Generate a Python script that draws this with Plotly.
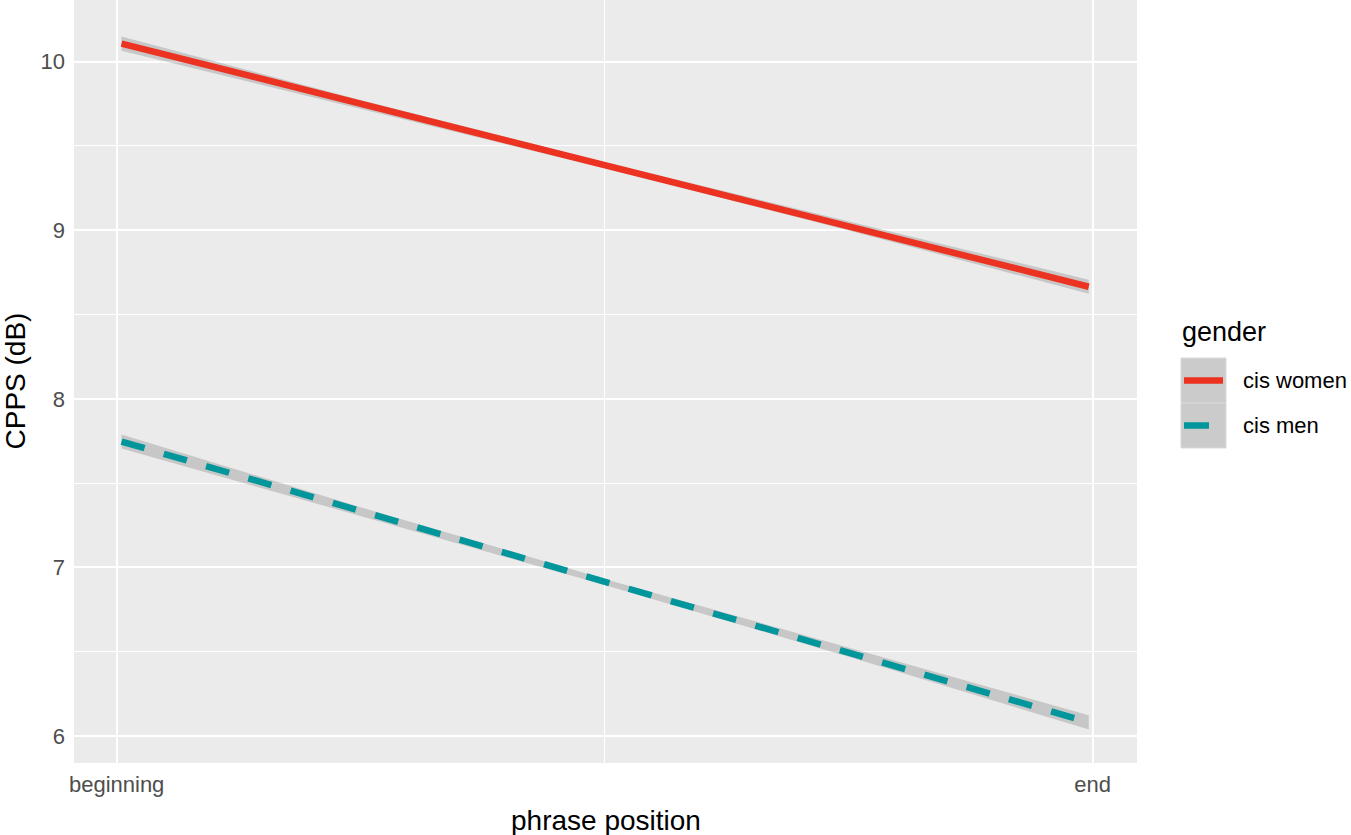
import plotly.graph_objects as go

# ---- data ----
x_pos = [0.005, 0.25, 0.5, 0.75, 0.996]
women = [10.107, 9.747, 9.386, 9.025, 8.665]
men = [7.747, 7.331, 6.914, 6.497, 6.081]
band_half = [0.042, 0.026, 0.018, 0.026, 0.042]
groups = ["cis women", "cis men"]
x_ticks = [0, 1]
x_ticklabels = ["beginning", "end"]
y_ticks = [6, 7, 8, 9, 10]

RED = "#EC3220"
TEAL = "#00969B"
RIBBON = "rgba(150,150,150,0.42)"
FONT = "Liberation Sans, Arial, sans-serif"

fig = go.Figure()

for vals, col, dash in [(women, RED, "solid"), (men, TEAL, "24px,20px")]:
    upper = [v + h for v, h in zip(vals, band_half)]
    lower = [v - h for v, h in zip(vals, band_half)]
    fig.add_trace(go.Scatter(
        x=x_pos + x_pos[::-1], y=upper + lower[::-1],
        fill="toself", fillcolor=RIBBON, line=dict(width=0),
        mode="lines", hoverinfo="skip", showlegend=False))
    fig.add_trace(go.Scatter(
        x=[x_pos[0], x_pos[-1]], y=[vals[0], vals[-1]],
        mode="lines", line=dict(color=col, width=6.5, dash=dash),
        showlegend=False))

# ---- manual legend (ggplot style) ----
L, R, T, B = 74, 1137, 0, 763
W, H = R - L, B - T
def px(x):
    return (x - L) / W
def py(y):
    return (B - y) / H

shapes = []
for i, (g, col) in enumerate(zip(groups, [RED, TEAL])):
    y0 = 358 + 45 * i
    shapes.append(dict(type="rect", xref="paper", yref="paper",
                       x0=px(1181), x1=px(1226), y0=py(y0 + 45), y1=py(y0),
                       fillcolor="#CBCBCB", line=dict(width=1, color="#D9D9D9"), layer="above"))
    xend = 1223 if i == 0 else 1209
    shapes.append(dict(type="line", xref="paper", yref="paper",
                       x0=px(1184), x1=px(xend), y0=py(y0 + 22.5), y1=py(y0 + 22.5),
                       line=dict(color=col, width=6.5), layer="above"))

annotations = [
    dict(text="gender", xref="paper", yref="paper", x=px(1180), y=py(332),
         xanchor="left", yanchor="middle", showarrow=False,
         font=dict(family=FONT, size=27, color="black")),
    dict(text="phrase position", xref="paper", yref="paper", x=0.5, y=py(820),
         xanchor="center", yanchor="middle", showarrow=False,
         font=dict(family=FONT, size=28, color="black")),
    dict(text="CPPS (dB)", xref="paper", yref="paper", x=px(15), y=0.5,
         xanchor="center", yanchor="middle", textangle=-90, showarrow=False,
         font=dict(family=FONT, size=28, color="black")),
]
for i, g in enumerate(groups):
    annotations.append(dict(text=g, xref="paper", yref="paper", x=px(1241),
                            y=py(380.5 + 45 * i), xanchor="left", yanchor="middle",
                            showarrow=False, font=dict(family=FONT, size=22, color="black")))

fig.update_layout(
    width=1351, height=835,
    margin=dict(l=L, r=1351 - R, t=T, b=835 - B),
    paper_bgcolor="white", plot_bgcolor="#EBEBEB",
    showlegend=False,
    shapes=shapes, annotations=annotations,
    xaxis=dict(range=[-0.0437, 1.0454], tickvals=x_ticks, ticktext=x_ticklabels,
               showgrid=True, gridcolor="white", gridwidth=2.2, zeroline=False,
               showline=False, ticks="", ticklabelstandoff=6,
               tickfont=dict(family=FONT, size=22, color="#4D4D4D"),
               minor=dict(tickvals=[0.5], showgrid=True, gridcolor="white", gridwidth=1.1)),
    yaxis=dict(range=[5.840, 10.366], tickvals=y_ticks,
               showgrid=True, gridcolor="white", gridwidth=2.2, zeroline=False,
               showline=False, ticks="", ticklabelstandoff=8,
               tickfont=dict(family=FONT, size=22, color="#4D4D4D"),
               minor=dict(tickvals=[6.5, 7.5, 8.5, 9.5], showgrid=True, gridcolor="white", gridwidth=1.1)),
)

fig.write_html("out.html")
